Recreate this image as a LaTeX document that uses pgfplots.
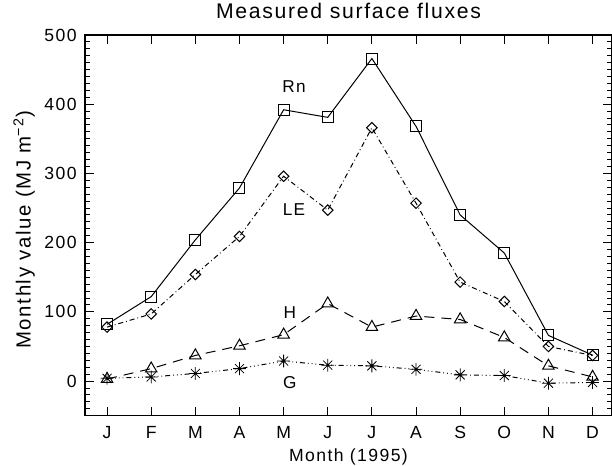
\documentclass[border=0pt]{standalone}
\usepackage{fontspec}
\setmainfont{Liberation Sans}[LetterSpace=8]
\usepackage{pgfplots}
\pgfplotsset{compat=1.18}
\pgfdeclareplotmark{ast8}{%
  \pgfpathmoveto{\pgfqpoint{-\pgfplotmarksize}{0pt}}\pgfpathlineto{\pgfqpoint{\pgfplotmarksize}{0pt}}%
  \pgfpathmoveto{\pgfqpoint{0pt}{-\pgfplotmarksize}}\pgfpathlineto{\pgfqpoint{0pt}{\pgfplotmarksize}}%
  \pgfpathmoveto{\pgfqpoint{-.707\pgfplotmarksize}{-.707\pgfplotmarksize}}\pgfpathlineto{\pgfqpoint{.707\pgfplotmarksize}{.707\pgfplotmarksize}}%
  \pgfpathmoveto{\pgfqpoint{-.707\pgfplotmarksize}{.707\pgfplotmarksize}}\pgfpathlineto{\pgfqpoint{.707\pgfplotmarksize}{-.707\pgfplotmarksize}}%
  \pgfusepathqstroke}
\begin{document}
\begin{tikzpicture}
\path[use as bounding box] (-42.5pt,-25.15pt) rectangle (263.5pt,207.85pt);
\begin{axis}[
  scale only axis,
  width=263.5pt, height=190.35pt,
  xmin=0.5, xmax=12.44,
  ymin=-50, ymax=500,
  xtick={1,...,12},
  xticklabels={J,F,M,A,M,J,J,A,S,O,N,D},
  ytick={0,100,...,500},
  minor ytick={-50,-40,...,500},
  tick pos=both,
  tick align=inside,
  major tick length=4.5pt,
  minor tick length=2.3pt,
  axis line style={line width=0.6pt},
  every tick/.style={black, line width=0.5pt},
  /pgf/number format/assume math mode=true,
  ticklabel style={font=\fontsize{8.8}{10}\selectfont},
  xticklabel style={anchor=base, inner sep=0pt, yshift=-11.3pt},
  yticklabel style={anchor=east, inner sep=0pt, xshift=-4pt},
  title={Measured surface fluxes},
  title style={at={(axis description cs:0.5,1)}, anchor=base, yshift=2.5pt, inner sep=0pt, font=\fontsize{10.6}{12}\selectfont},
  xlabel={Month (1995)},
  xlabel style={at={(axis description cs:0.5,0)}, anchor=base, yshift=-22.9pt, inner sep=0pt, font=\fontsize{8.8}{10}\selectfont},
  ylabel={Monthly value (MJ m\textsuperscript{−2})},
  ylabel style={at={(axis description cs:-0.1034,0.488)}, rotate=0, anchor=base, inner sep=0pt, font=\fontsize{10.2}{12}\selectfont},
  every axis plot/.append style={black, line width=0.5pt},
  clip=false,
]
\addplot[solid, mark=square, mark size=2.75pt, mark options={solid}] coordinates {
(1,82) (2,122) (3,204) (4,279) (5,392) (6,381) (7,466) (8,368) (9,240) (10,185) (11,66) (12,37.5)};
\addplot[dash pattern=on 2.5pt off 1.5pt on 0.4pt off 1.5pt, mark=square, mark size=1.85pt, mark options={solid, rotate=45}] coordinates {
(1,78) (2,97) (3,154) (4,209) (5,296) (6,247) (7,366) (8,257) (9,143) (10,115) (11,50) (12,37)};
\addplot[dash pattern=on 5pt off 3.5pt, mark=triangle, mark size=3.3pt, mark options={solid}] coordinates {
(1,3) (2,18) (3,37) (4,51) (5,67) (6,112) (7,78) (8,94) (9,89) (10,63) (11,22) (12,6)};
\addplot[dash pattern=on 2.5pt off 1.5pt on 0.4pt off 1.5pt on 0.4pt off 1.5pt on 0.4pt off 1.5pt, mark=ast8, mark size=3.2pt, mark options={solid, line width=0.4pt}] coordinates {
(1,4) (2,6) (3,11) (4,18) (5,29) (6,23) (7,22) (8,17) (9,9) (10,8) (11,-3) (12,-2)};
\node[font=\fontsize{8.6}{10}\selectfont] at (axis cs:5.235,425) {Rn};
\node[font=\fontsize{8.6}{10}\selectfont] at (axis cs:5.235,248) {LE};
\node[font=\fontsize{8.6}{10}\selectfont] at (axis cs:5.14,99) {H};
\node[font=\fontsize{8.6}{10}\selectfont] at (axis cs:5.14,-2) {G};
\end{axis}
\end{tikzpicture}
\end{document}
